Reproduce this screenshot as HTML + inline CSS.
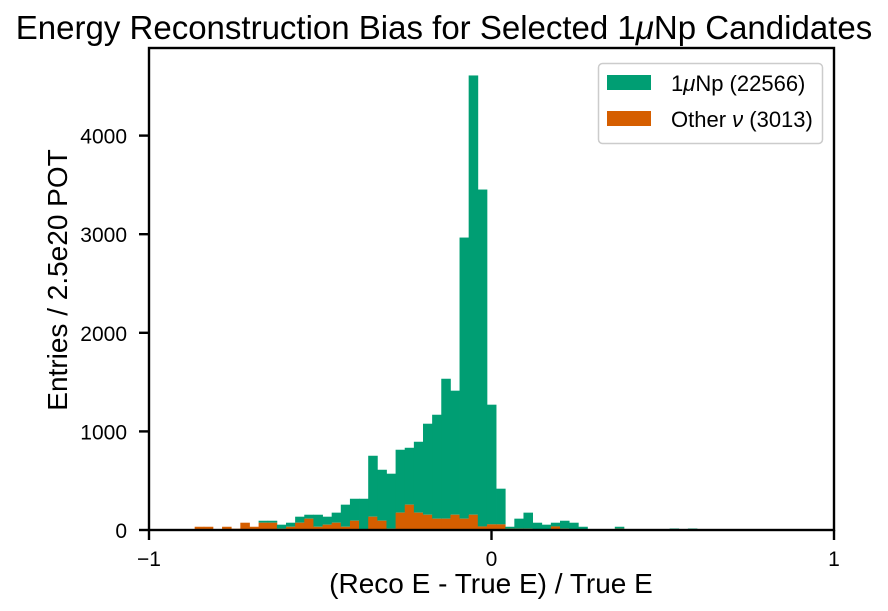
<!DOCTYPE html>
<html><head><meta charset="utf-8"><style>
body{margin:0;background:#fff;}
svg{display:block;font-family:"Liberation Sans",sans-serif;}
</style></head><body>
<svg id="chart" width="888" height="611">
<text x="444" y="39" text-anchor="middle" font-size="33">Energy Reconstruction Bias for Selected 1<tspan font-style="italic">μ</tspan>Np Candidates</text>
<g id="bars"></g>
<g id="axes"></g>
<text x="491" y="593" text-anchor="middle" font-size="28">(Reco E - True E) / True E</text>
<text transform="translate(67,280) rotate(-90)" text-anchor="middle" font-size="28">Entries / 2.5e20 POT</text>
<g>
<rect x="598.5" y="63.5" width="224" height="80" rx="4" fill="#fff" stroke="#cccccc" stroke-width="1.5"/>
<rect x="607" y="75" width="44" height="15" fill="#009e73"/>
<text x="671" y="91" font-size="22">1<tspan font-style="italic">μ</tspan>Np (22566)</text>
<rect x="607" y="111" width="44" height="15" fill="#d55e00"/>
<text x="671" y="127" font-size="22">Other <tspan font-style="italic">ν</tspan> (3013)</text>
</g>
</svg>
<script>
const binLo = -1, binHi = 1, nBins = 75;
const otherCounts = [0,0,0,0,0,33,33,0,33,13,74,33,74,74,13,33,74,115,33,54,74,33,94,0,135,94,13,176,257,176,155,115,115,155,115,155,36,57,57,13,13,13,0,0,36,13,0,0,0,0,0,13,0,0,0,0,0,0,0,0,0,0,0,0,0,0,0,0,0,0,0,0,0,0,0];
const totalCounts = [0,0,0,0,0,33,33,0,33,13,74,33,94,94,54,74,135,155,155,135,176,257,317,317,753,611,571,814,834,895,1078,1169,1534,1413,2966,4610,3453,1271,419,33,115,176,74,54,74,94,74,33,0,0,0,33,0,0,0,0,0,15,0,15,0,0,0,0,0,0,0,0,0,0,0,0,0,0,0];
const xTicks = [-1,0,1];
const xTickLabels = ["−1","0","1"];
const yTicks = [0,1000,2000,3000,4000];
const yTickLabels = ["0","1000","2000","3000","4000"];

const X0=149, X1=834, Y0=530, Y1=48;
const xs = v => X0 + (v-binLo)/(binHi-binLo)*(X1-X0);
const ys = v => Y0 - v*0.0986;
const NS="http://www.w3.org/2000/svg";
const bars=document.getElementById('bars'), axes=document.getElementById('axes');
function mk(tag,attrs,parent){const e=document.createElementNS(NS,tag);for(const k in attrs)e.setAttribute(k,attrs[k]);parent.appendChild(e);return e;}
const w=(binHi-binLo)/nBins;
for(let i=0;i<nBins;i++){
  const a=xs(binLo+i*w), b=xs(binLo+(i+1)*w);
  const o=otherCounts[i], t=totalCounts[i];
  if(t>o){
    const r=mk('rect',{x:a,y:ys(t),width:b-a+0.4,height:ys(o)-ys(t),fill:'#009e73'},bars);
    
    
  }
  if(o>0){
    const r=mk('rect',{x:a,y:ys(o),width:b-a+0.4,height:Y0-ys(o),fill:'#d55e00'},bars);
    
    
  }
}
const frame=mk('rect',{x:X0,y:Y1,width:X1-X0,height:Y0-Y1,fill:'none',stroke:'#000','stroke-width':2.4},axes);


xTicks.forEach((v,i)=>{
  const l=mk('line',{x1:xs(v),x2:xs(v),y1:Y0,y2:Y0+10,stroke:'#000','stroke-width':2.4},axes);
  
  
  const t=mk('text',{x:xs(v),y:Y0+36,'text-anchor':'middle','font-size':21},axes);
  t.textContent=xTickLabels[i];
  
  
});
yTicks.forEach((v,i)=>{
  const l=mk('line',{x1:X0-10,x2:X0,y1:ys(v),y2:ys(v),stroke:'#000','stroke-width':2.4},axes);
  
  
  const t=mk('text',{x:X0-22,y:ys(v)+8,'text-anchor':'end','font-size':21},axes);
  t.textContent=yTickLabels[i];
  
  
});
</script>
</body></html>
